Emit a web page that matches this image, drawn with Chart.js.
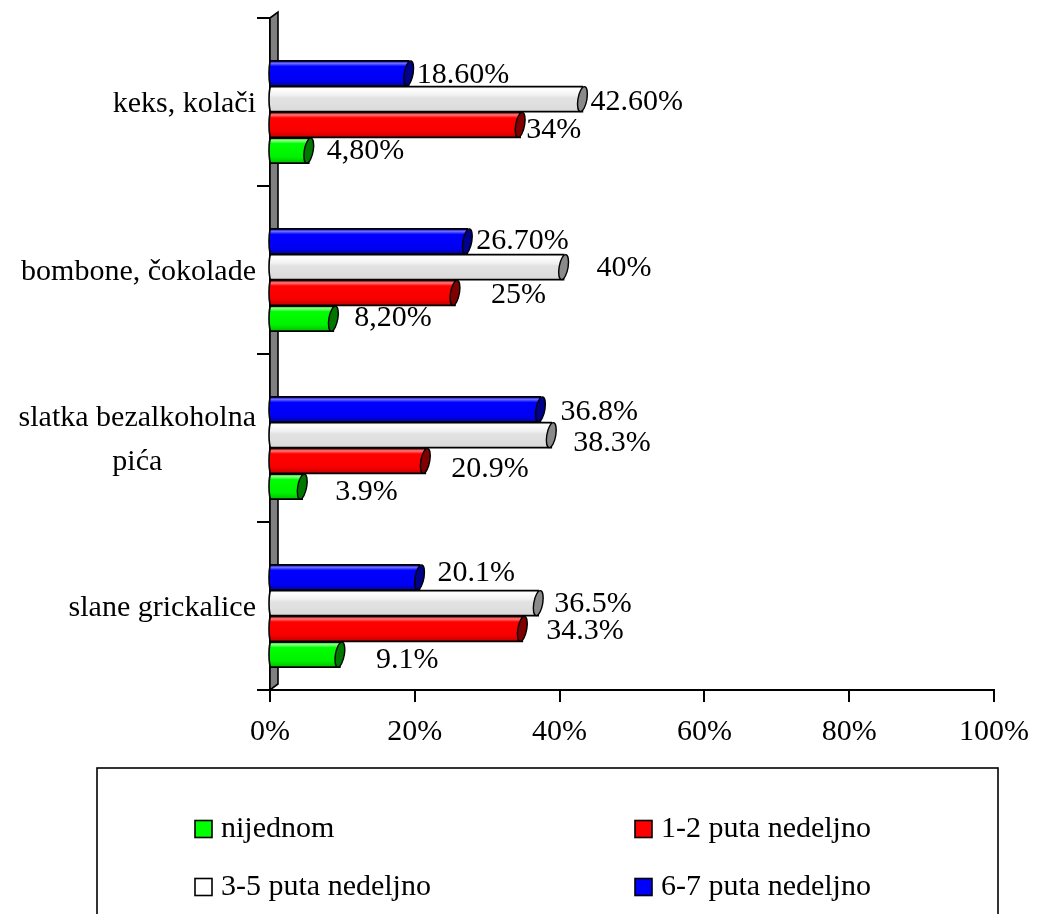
<!DOCTYPE html>
<html>
<head>
<meta charset="utf-8">
<script src="https://cdn.jsdelivr.net/npm/chart.js@4.4.1/dist/chart.umd.min.js"></script>
<style>
  html, body { margin: 0; padding: 0; background: #ffffff; }
  #wrap { width: 1041px; height: 914px; }
</style>
</head>
<body>
<div id="wrap"><canvas id="c" width="1041" height="914"></canvas></div>
<script>
// Categories (top to bottom) and the weekly-frequency series
const categories = [['keks, kolači'], ['bombone, čokolade'], ['slatka bezalkoholna', 'pića'], ['slane grickalice']];

const nijednom = [4.8, 8.2, 3.9, 9.1];
const puta1do2 = [34, 25, 20.9, 34.3];
const puta3do5 = [42.6, 40, 38.3, 36.5];
const puta6do7 = [18.6, 26.7, 36.8, 20.1];

// Value labels as printed next to each bar
const nijednomText = ['4,80%', '8,20%', '3.9%', '9.1%'];
const puta1do2Text = ['34%', '25%', '20.9%', '34.3%'];
const puta3do5Text = ['42.60%', '40%', '38.3%', '36.5%'];
const puta6do7Text = ['18.60%', '26.70%', '36.8%', '20.1%'];

const xTickValues = [0, 20, 40, 60, 80, 100];

// ---- presentation ----
const FONT = "'Liberation Serif', 'Times New Roman', serif";
const DEPTH = 10; // downward shift of the bars (3D depth)

const looks = {
  green: { cap: '#007800', swatch: '#00ff00',
    stops: [[0, '#00dc00'], [0.1, '#8cff8c'], [0.22, '#00ff00'], [0.75, '#00f200'], [1, '#00c000']] },
  red: { cap: '#800000', swatch: '#ff0000',
    stops: [[0, '#e00000'], [0.1, '#ff7a7a'], [0.22, '#ff0000'], [0.75, '#f80000'], [1, '#c40000']] },
  white: { cap: '#8a8a8a', swatch: '#ffffff',
    stops: [[0, '#f2f2f2'], [0.1, '#ffffff'], [0.35, '#f0f0f0'], [0.45, '#e2e2e2'], [1, '#dadada']] },
  blue: { cap: '#000088', swatch: '#0000ff',
    stops: [[0, '#0000dc'], [0.1, '#6e6eff'], [0.22, '#0000ff'], [0.75, '#0000f4'], [1, '#0000bc']] }
};

// Hand-placed label offsets [dx, dy] from the bar tip / bar centre
const nudge67 = [[12, 2], [13, 0], [24, 3], [22, -4]];
const nudge35 = [[12, 3], [37, 1], [26, 8], [20, 1]];
const nudge12 = [[10, 5], [40, 2], [30, 8], [28, 2]];
const nudge0  = [[22, 1], [25, 0], [37, 6], [40, 6]];

// Dataset order = drawing order inside each group, top to bottom
const datasets = [
  { label: '6-7 puta nedeljno', data: puta6do7, texts: puta6do7Text, look: looks.blue, nudge: nudge67 },
  { label: '3-5 puta nedeljno', data: puta3do5, texts: puta3do5Text, look: looks.white, nudge: nudge35 },
  { label: '1-2 puta nedeljno', data: puta1do2, texts: puta1do2Text, look: looks.red, nudge: nudge12 },
  { label: 'nijednom', data: nijednom, texts: nijednomText, look: looks.green, nudge: nudge0 }
];
// Legend reading order: row by row, two columns
const legendOrder = [3, 2, 1, 0];

function drawCylinder(ctx, x0, x1, yc, h, look) {
  const top = yc - h / 2;
  const tip = x1 + 4;
  const g = ctx.createLinearGradient(0, top, 0, top + h);
  look.stops.forEach(([o, c]) => g.addColorStop(o, c));
  ctx.save();
  ctx.beginPath();
  ctx.moveTo(x0, top);
  ctx.lineTo(tip, top);
  ctx.lineTo(tip, top + h);
  ctx.lineTo(x0, top + h);
  ctx.ellipse(x0, yc, 2, h / 2, 0, Math.PI / 2, Math.PI * 1.5);
  ctx.closePath();
  ctx.fillStyle = g;
  ctx.fill();
  ctx.lineWidth = 1.6;
  ctx.strokeStyle = '#000';
  ctx.stroke();
  // end cap
  ctx.translate(tip, yc);
  ctx.transform(1, 0, -0.16, 1, 0, 0);
  ctx.beginPath();
  ctx.ellipse(0, 0, 4.5, h / 2, 0, 0, Math.PI * 2);
  ctx.fillStyle = look.cap;
  ctx.fill();
  ctx.lineWidth = 1.4;
  ctx.stroke();
  ctx.restore();
}

const cylinderPlugin = {
  id: 'cylinders',
  beforeDatasetsDraw(chart) {
    const ctx = chart.ctx;
    const a = chart.chartArea;
    // grey side wall behind the category axis
    ctx.save();
    ctx.beginPath();
    ctx.moveTo(a.left, a.top);
    ctx.lineTo(a.left + 8, a.top - 6);
    ctx.lineTo(a.left + 8, a.bottom - 6);
    ctx.lineTo(a.left, a.bottom);
    ctx.closePath();
    ctx.fillStyle = '#808080';
    ctx.fill();
    ctx.lineWidth = 1.6;
    ctx.strokeStyle = '#000';
    ctx.stroke();
    ctx.restore();
  },
  afterDatasetsDraw(chart) {
    const ctx = chart.ctx;
    const yScale = chart.scales.y;
    datasets.forEach((ds, di) => {
      const meta = chart.getDatasetMeta(di);
      meta.data.forEach(bar => {
        drawCylinder(ctx, bar.base, bar.x, bar.y + DEPTH, bar.height, ds.look);
      });
    });
    // value labels
    ctx.save();
    ctx.font = '30px ' + FONT;
    ctx.fillStyle = '#000';
    ctx.textAlign = 'left';
    ctx.textBaseline = 'middle';
    datasets.forEach((ds, di) => {
      const meta = chart.getDatasetMeta(di);
      meta.data.forEach((bar, i) => {
        const [dx, dy] = ds.nudge[i];
        ctx.fillText(ds.texts[i], bar.x + dx, bar.y + DEPTH + dy);
      });
    });
    // category labels, right-aligned block, lines centred within it
    ctx.textAlign = 'center';
    const right = chart.chartArea.left - 14;
    const lh = 44;
    categories.forEach((lines, i) => {
      const yc = yScale.getPixelForValue(i) + 2;
      const w = Math.max(...lines.map(l => ctx.measureText(l).width));
      const cx = right - w / 2;
      lines.forEach((l, k) => {
        ctx.fillText(l, cx, yc + (k - (lines.length - 1) / 2) * lh);
      });
    });
    ctx.restore();

    // legend box
    ctx.save();
    ctx.lineWidth = 1.6;
    ctx.strokeStyle = '#000';
    ctx.strokeRect(97, 768, 901, 160);
    ctx.font = '30px ' + FONT;
    ctx.textBaseline = 'middle';
    ctx.textAlign = 'left';
    const colX = [195, 635];
    const rowY = [829, 887];
    legendOrder.forEach((di, k) => {
      const ds = datasets[di];
      const x = colX[k % 2];
      const y = rowY[Math.floor(k / 2)];
      ctx.fillStyle = ds.look.swatch;
      ctx.fillRect(x, y - 8.5, 17, 17);
      ctx.strokeRect(x, y - 8.5, 17, 17);
      ctx.fillStyle = '#000';
      ctx.fillText(ds.label, x + 26, y);
    });
    ctx.restore();
  }
};

Chart.defaults.font.family = FONT;

new Chart(document.getElementById('c'), {
  type: 'bar',
  data: {
    labels: categories,
    datasets: datasets.map(ds => ({
      label: ds.label,
      data: ds.data,
      backgroundColor: 'rgba(0,0,0,0)',
      borderWidth: 0,
      categoryPercentage: 0.613,
      barPercentage: 0.97
    }))
  },
  options: {
    indexAxis: 'y',
    responsive: false,
    animation: false,
    layout: { padding: { top: 18, right: 43, left: 0, bottom: 0 } },
    plugins: { legend: { display: false }, tooltip: { enabled: false } },
    scales: {
      x: {
        min: 0,
        max: 100,
        afterBuildTicks: s => { s.ticks = xTickValues.map(v => ({ value: v })); },
        afterFit: s => { s.height = 224; },
        ticks: { callback: v => v + '%', font: { size: 30 }, color: '#000', padding: 12, maxRotation: 0, autoSkip: false },
        grid: { drawOnChartArea: false, drawTicks: true, tickLength: 12, color: '#000', lineWidth: 2 },
        border: { color: '#000', width: 2 }
      },
      y: {
        afterFit: s => { s.width = 270; },
        ticks: { display: false },
        grid: { drawOnChartArea: false, drawTicks: true, tickLength: 13, color: '#000', lineWidth: 2, offset: true },
        border: { color: '#000', width: 2 }
      }
    }
  },
  plugins: [cylinderPlugin]
});
</script>
</body>
</html>
